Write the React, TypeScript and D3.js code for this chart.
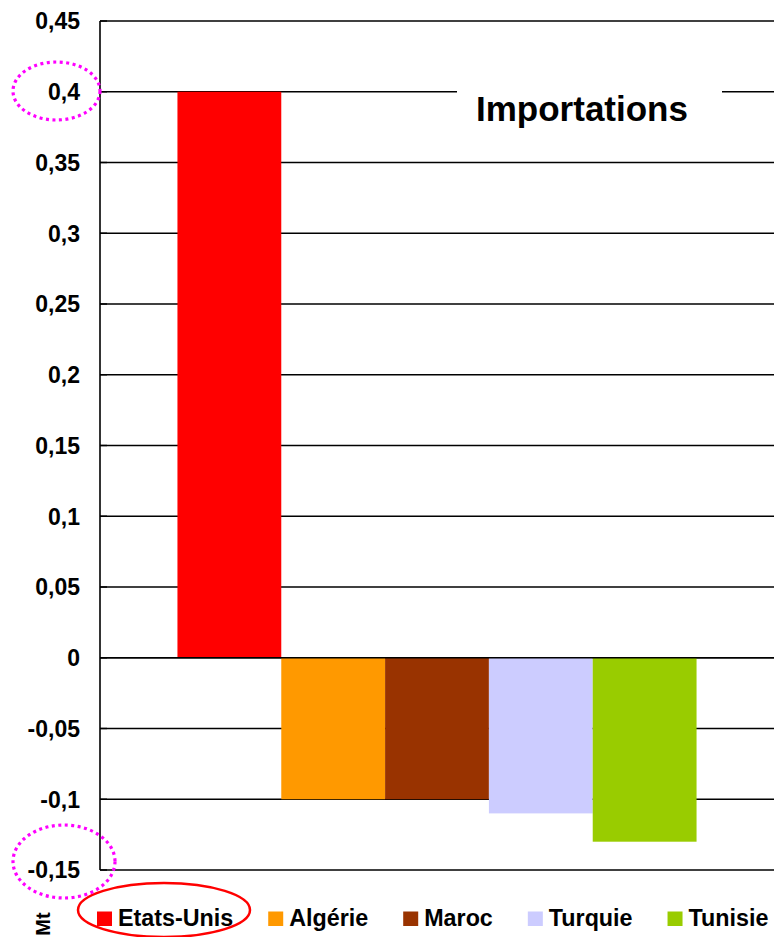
import React, { useEffect, useRef } from "react";
import * as d3 from "d3";

const categories = ["Etats-Unis", "Algérie", "Maroc", "Turquie", "Tunisie"];
const values = [0.4, -0.1, -0.1, -0.11, -0.13];
const colors = ["#ff0000", "#ff9900", "#993300", "#ccccff", "#99cc00"];
const tickValues = [0.45, 0.4, 0.35, 0.3, 0.25, 0.2, 0.15, 0.1, 0.05, 0, -0.05, -0.1, -0.15];
const tickLabels = ["0,45", "0,4", "0,35", "0,3", "0,25", "0,2", "0,15", "0,1", "0,05", "0", "-0,05", "-0,1", "-0,15"];
const title = "Importations";
const unitLabel = "Mt";

const W = 778;
const H = 937;
const FONT = "'Liberation Sans', Arial, sans-serif";

export default function App() {
  const ref = useRef<SVGSVGElement | null>(null);

  useEffect(() => {
    const svg = d3.select(ref.current);
    svg.selectAll("*").remove();

    const left = 100, right = 774, top = 21, bottom = 870;
    const y = d3.scaleLinear().domain([-0.15, 0.45]).range([bottom, top]);
    const x = d3.scaleBand<string>().domain(categories).range([left, right]).paddingInner(0).paddingOuter(0.746);

    svg.append("rect").attr("width", W).attr("height", H).attr("fill", "#fff");

    // gridlines
    const g = svg.append("g");
    tickValues.forEach((t) => {
      g.append("line")
        .attr("x1", left).attr("x2", right)
        .attr("y1", y(t)).attr("y2", y(t))
        .attr("stroke", "#000").attr("stroke-width", 1.4);
    });

    // bars
    svg.append("g").selectAll("rect").data(categories).join("rect")
      .attr("x", (d) => x(d)!)
      .attr("width", x.bandwidth())
      .attr("y", (d, i) => Math.min(y(values[i]), y(0)))
      .attr("height", (d, i) => Math.abs(y(values[i]) - y(0)))
      .attr("fill", (d, i) => colors[i]);

    // zero line on top
    svg.append("line").attr("x1", left).attr("x2", right).attr("y1", y(0)).attr("y2", y(0))
      .attr("stroke", "#000").attr("stroke-width", 1.4);

    // y axis line and ticks
    svg.append("line").attr("x1", left).attr("x2", left).attr("y1", top).attr("y2", bottom)
      .attr("stroke", "#000").attr("stroke-width", 1.6);
    tickValues.forEach((t, i) => {
      svg.append("line").attr("x1", left).attr("x2", left + 7).attr("y1", y(t)).attr("y2", y(t))
        .attr("stroke", "#000").attr("stroke-width", 1.4);
      svg.append("text").attr("x", 80).attr("y", y(t)).attr("dy", "0.36em")
        .attr("text-anchor", "end").attr("font-family", FONT).attr("font-weight", "bold")
        .attr("font-size", 23).attr("fill", "#000").text(tickLabels[i]);
    });

    // title with white box
    svg.append("rect").attr("x", 457).attr("y", 70).attr("width", 265).attr("height", 70).attr("fill", "#fff");
    svg.append("text").attr("x", 582).attr("y", 121).attr("text-anchor", "middle")
      .attr("font-family", FONT).attr("font-weight", "bold").attr("font-size", 35).attr("fill", "#000")
      .text(title);

    // legend
    const leg = svg.append("g");
    let lx = 97;
    const ly = 926;
    categories.forEach((c, i) => {
      leg.append("rect").attr("x", lx).attr("y", ly - 14.5).attr("width", 15).attr("height", 14.5).attr("fill", colors[i]);
      const tx = leg.append("text").attr("x", lx + 21).attr("y", ly).attr("font-family", FONT)
        .attr("font-weight", "bold").attr("font-size", 23.3).attr("fill", "#000").text(c);
      const w = (tx.node() as SVGTextElement).getComputedTextLength();
      lx = lx + 21 + w + 35;
    });

    // unit label
    svg.append("text").attr("transform", "translate(50,924) rotate(-90)").attr("text-anchor", "middle")
      .attr("font-family", FONT).attr("font-weight", "bold").attr("font-size", 20).attr("fill", "#000")
      .text(unitLabel);

    // annotations
    svg.append("ellipse").attr("cx", 164).attr("cy", 910).attr("rx", 86).attr("ry", 27)
      .attr("fill", "none").attr("stroke", "#ff0000").attr("stroke-width", 2.5);
    svg.append("ellipse").attr("cx", 56.5).attr("cy", 91).attr("rx", 43.5).attr("ry", 29)
      .attr("fill", "none").attr("stroke", "#ff00ff").attr("stroke-width", 3.2).attr("stroke-dasharray", "3 3.5");
    svg.append("ellipse").attr("cx", 64).attr("cy", 861.5).attr("rx", 51).attr("ry", 36.5)
      .attr("fill", "none").attr("stroke", "#ff00ff").attr("stroke-width", 3.2).attr("stroke-dasharray", "3 3.5");
  }, []);

  return (
    <svg ref={ref} width={W} height={H} style={{ display: "block", position: "absolute", left: 0, top: 0 }} />
  );
}
